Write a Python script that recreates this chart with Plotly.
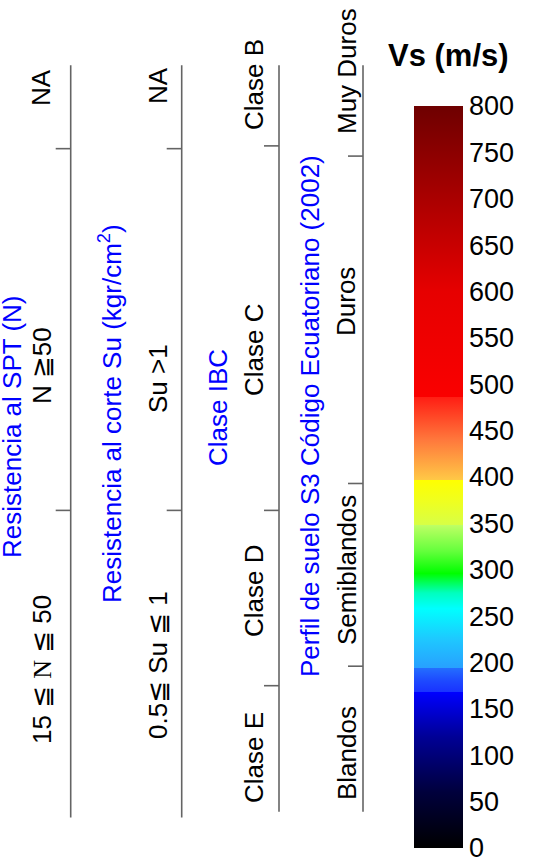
import plotly.graph_objects as go

# ---------------- data ----------------
# colour bar
cb_min, cb_max = 0, 800
cb_ticks = [0, 50, 100, 150, 200, 250, 300, 350, 400, 450, 500, 550, 600, 650, 700, 750, 800]
# colour stops (Vs value, colour)
cs_values = [0, 60, 120, 168, 168, 181, 194, 194, 225, 258, 275, 296, 320, 348, 348, 375, 397, 397, 440, 486, 486, 600, 700, 800]
cs_colors = ["rgb(0,0,0)", "rgb(0,0,60)", "rgb(0,0,150)", "rgb(0,0,255)",
             "rgb(25,50,255)", "rgb(30,75,255)", "rgb(35,110,255)",
             "rgb(40,160,255)", "rgb(30,200,255)", "rgb(0,255,255)", "rgb(0,255,190)",
             "rgb(0,255,0)", "rgb(100,255,60)", "rgb(190,255,100)",
             "rgb(215,255,70)", "rgb(240,255,30)", "rgb(255,255,0)",
             "rgb(255,200,70)", "rgb(255,120,60)", "rgb(255,30,20)",
             "rgb(250,0,0)", "rgb(230,0,0)", "rgb(170,0,0)", "rgb(110,0,0)"]

# class boundaries (Vs, read against the colour-bar scale)
spt_bounds = [364, 754]
su_bounds = [364, 754]
ibc_bounds = [175, 364, 757]
s3_bounds = [196, 393, 746]
# vertical extent of each column line
spt_extent = [33, 844]
su_extent = [33, 844]
ibc_extent = [39, 844]
s3_extent = [39, 844]

spt_labels = ["15 ≦ <span style=\"font-family:'Liberation Serif'\">N</span> ≦ 50", "N ≧50", "NA"]
su_labels = ["0.5≦ Su ≦ 1", "Su &gt;1", "NA"]
ibc_labels = ["Clase E", "Clase D", "Clase C", "Clase B"]
s3_labels = ["Blandos", "Semiblandos", "Duros", "Muy Duros"]
titles = ["Resistencia al SPT (N)", "Resistencia al corte Su (kgr/cm<sup>2</sup>)",
          "Clase IBC", "Perfil de suelo S3 Código Ecuatoriano (2002)"]

# ---------------- layout geometry (pixels of the page) ----------------
W, H = 540, 865
CB_TOP, CB_BOT = 106, 848
k = (CB_BOT - CB_TOP) / (cb_max - cb_min)

def val(ypage):
    return cb_min + (CB_BOT - ypage) / k

y_lo = val(H)
y_hi = val(0)

def px(x):
    return x / W

def py(y):
    return 1 - y / H

FONT = "Liberation Sans, Arial, DejaVu Sans, sans-serif"
LINE_COLOR = "rgb(100,100,100)"

fig = go.Figure()

columns = [
    (70.7, spt_bounds, spt_extent),
    (181.7, su_bounds, su_extent),
    (279, ibc_bounds, ibc_extent),
    (363, s3_bounds, s3_extent),
]
TICK = 15
for xc, bounds, ext in columns:
    xs = [xc, xc, None]
    ys = [ext[0], ext[1], None]
    for b in bounds:
        xs += [xc - TICK, xc, None]
        ys += [b, b, None]
    fig.add_trace(go.Scatter(x=xs, y=ys, mode="lines",
                             line=dict(color=LINE_COLOR, width=1.6),
                             hoverinfo="skip", showlegend=False))

# colour bar via dummy trace
span = cb_max - cb_min
colorscale = [[(v - cb_min) / span, c] for v, c in zip(cs_values, cs_colors)]
fig.add_trace(go.Scatter(
    x=[-1000], y=[-1000], mode="markers", showlegend=False, hoverinfo="skip",
    marker=dict(color=[0], colorscale=colorscale, cmin=cb_min, cmax=cb_max,
                showscale=True,
                colorbar=dict(
                    thickness=49, thicknessmode="pixels",
                    len=(CB_BOT - CB_TOP) / H, lenmode="fraction",
                    y=py(CB_BOT), yanchor="bottom",
                    x=px(414), xanchor="left",
                    xpad=0, ypad=0, outlinewidth=0,
                    tickvals=cb_ticks, ticks="outside", ticklen=1,
                    tickcolor="rgba(0,0,0,0)",
                    tickfont=dict(family=FONT, size=27, color="black"),
                ))))

ann = []
def label(text, x, y, color="black", size=26):
    ann.append(dict(text=text, x=px(x), y=py(y), xref="paper", yref="paper",
                    showarrow=False, textangle=-90, xanchor="center", yanchor="middle",
                    font=dict(family=FONT, size=size, color=color)))

# column 1
label(spt_labels[2], 41, 88)
label(spt_labels[1], 42, 366)
label(spt_labels[0], 42, 670)
label(titles[0], 12, 427, "blue")
# column 2
label(su_labels[2], 158, 86)
label(su_labels[1], 158, 379)
label(su_labels[0], 158, 665)
label(titles[1], 110, 414, "blue")
# column 3
label(ibc_labels[3], 254, 85)
label(ibc_labels[2], 254, 350)
label(ibc_labels[1], 254, 591)
label(ibc_labels[0], 254, 758)
label(titles[2], 218, 408, "blue")
# column 4
label(s3_labels[3], 347, 71)
label(s3_labels[2], 346, 302)
label(s3_labels[1], 347, 570)
label(s3_labels[0], 347, 753)
label(titles[3], 310, 416, "blue")

# colour bar title
ann.append(dict(text="<b>Vs (m/s)</b>", x=px(448), y=py(56), xref="paper", yref="paper",
                showarrow=False, xanchor="center", yanchor="middle",
                font=dict(family=FONT, size=31, color="black")))

fig.update_layout(
    width=W, height=H, autosize=False,
    margin=dict(l=0, r=0, t=0, b=0),
    paper_bgcolor="white", plot_bgcolor="white",
    xaxis=dict(range=[0, W], visible=False, fixedrange=True),
    yaxis=dict(range=[y_lo, y_hi], visible=False, fixedrange=True),
    annotations=ann,
    showlegend=False,
)

fig.write_html("out.html", config={"displayModeBar": False, "staticPlot": True},
               post_script="document.body.style.margin='0';")
